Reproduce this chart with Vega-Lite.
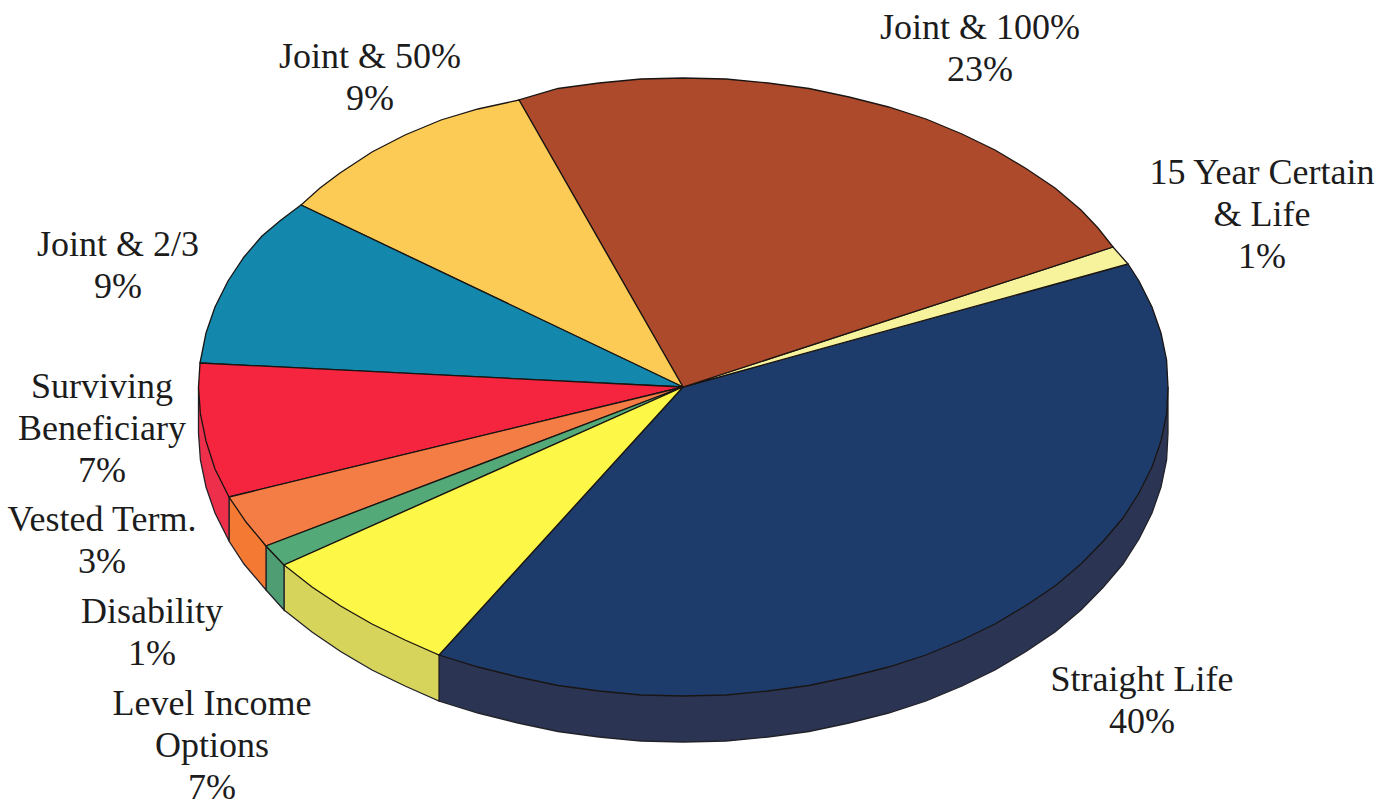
{
"$schema":"https://vega.github.io/schema/vega-lite/v6.json",
"width":1387,"height":804,"padding":0,"autosize":"none","background":"white",
"view":{"stroke":null},
"encoding":{"x":{"field":"x","type":"quantitative","scale":{"domain":[0,1387],"nice":false,"zero":false},"axis":null},"y":{"field":"y","type":"quantitative","scale":{"domain":[804,0],"nice":false,"zero":false},"axis":null}},
"layer":[
{"data":{"name":"walls"},"mark":{"type":"line","strokeWidth":1.3,"stroke":"#22222a","filled":true,"interpolate":"linear"},
"encoding":{"order":{"field":"i","type":"quantitative"},"detail":{"field":"s"},
"fill":{"field":"s","type":"nominal","legend":null,"scale":{"domain":["Straight Life wall","Level Income wall","Disability wall","Vested wall","Surviving wall"],"range":["#2b3553","#d6d45a","#4f9d72","#f47a33","#ee2f4c"]}}}},
{"data":{"name":"tops"},"mark":{"type":"line","strokeWidth":1.3,"stroke":"#1a1512","filled":true,"interpolate":"linear"},
"encoding":{"order":{"field":"i","type":"quantitative"},"detail":{"field":"s"},
"fill":{"field":"s","type":"nominal","legend":null,"scale":{"domain":["Straight Life","15 Year Certain & Life","Joint & 100%","Joint & 50%","Joint & 2/3","Surviving Beneficiary","Vested Term.","Disability","Level Income Options"],"range":["#1d3c6c","#f7f29c","#ae4a2c","#fbcb56","#1487ac","#f5243f","#f47c45","#53aa78","#fdf748"]}}}},
{"data":{"name":"labels"},"mark":{"type":"text","font":"Liberation Serif","fontSize":36,"lineBreak":"\n","lineHeight":42,"align":"center","baseline":"alphabetic","color":"#1c1c1c"},
"encoding":{"text":{"field":"label"}}}
],
"resolve":{"scale":{"fill":"independent"}},
"datasets":{
"labels":[
{"label":"Joint & 100%\n23%","share":23,"x":980,"y":39},
{"label":"Joint & 50%\n9%","share":9,"x":370,"y":68},
{"label":"15 Year Certain\n& Life\n1%","share":1,"x":1262,"y":184},
{"label":"Joint & 2/3\n9%","share":9,"x":118,"y":256},
{"label":"Surviving\nBeneficiary\n7%","share":7,"x":102,"y":398},
{"label":"Vested Term.\n3%","share":3,"x":102,"y":531},
{"label":"Disability\n1%","share":1,"x":152,"y":623},
{"label":"Level Income\nOptions\n7%","share":7,"x":212,"y":715},
{"label":"Straight Life\n40%","share":40,"x":1142,"y":691}
],
"walls":[
{"s":"Straight Life wall","i":0,"x":439,"y":655},{"s":"Straight Life wall","i":1,"x":439,"y":701},{"s":"Straight Life wall","i":2,"x":478,"y":713},{"s":"Straight Life wall","i":3,"x":518,"y":723},{"s":"Straight Life wall","i":4,"x":558,"y":731.5},{"s":"Straight Life wall","i":5,"x":599,"y":737},{"s":"Straight Life wall","i":6,"x":641,"y":741},{"s":"Straight Life wall","i":7,"x":683,"y":742},{"s":"Straight Life wall","i":8,"x":726,"y":741},{"s":"Straight Life wall","i":9,"x":768,"y":737},{"s":"Straight Life wall","i":10,"x":809,"y":731.5},{"s":"Straight Life wall","i":11,"x":849,"y":723},{"s":"Straight Life wall","i":12,"x":888.6,"y":713},{"s":"Straight Life wall","i":13,"x":926,"y":701},{"s":"Straight Life wall","i":14,"x":962,"y":686},{"s":"Straight Life wall","i":15,"x":995,"y":670},{"s":"Straight Life wall","i":16,"x":1026,"y":651.5},{"s":"Straight Life wall","i":17,"x":1055,"y":632},{"s":"Straight Life wall","i":18,"x":1081,"y":610},{"s":"Straight Life wall","i":19,"x":1103,"y":587.5},{"s":"Straight Life wall","i":20,"x":1123,"y":564},{"s":"Straight Life wall","i":21,"x":1139,"y":539},{"s":"Straight Life wall","i":22,"x":1152,"y":513},{"s":"Straight Life wall","i":23,"x":1161,"y":487},{"s":"Straight Life wall","i":24,"x":1166.6,"y":460},{"s":"Straight Life wall","i":25,"x":1168,"y":433},{"s":"Straight Life wall","i":26,"x":1168,"y":387},
{"s":"Level Income wall","i":0,"x":284,"y":565},{"s":"Level Income wall","i":1,"x":284,"y":610},{"s":"Level Income wall","i":2,"x":312,"y":632},{"s":"Level Income wall","i":3,"x":340.6,"y":651.5},{"s":"Level Income wall","i":4,"x":372,"y":670},{"s":"Level Income wall","i":5,"x":405,"y":686},{"s":"Level Income wall","i":6,"x":439,"y":701},{"s":"Level Income wall","i":7,"x":439,"y":655},{"s":"Level Income wall","i":8,"x":284,"y":565},
{"s":"Disability wall","i":0,"x":266,"y":546},{"s":"Disability wall","i":1,"x":266,"y":590},{"s":"Disability wall","i":2,"x":284,"y":610},{"s":"Disability wall","i":3,"x":284,"y":565},{"s":"Disability wall","i":4,"x":266,"y":546},
{"s":"Vested wall","i":0,"x":229,"y":497},{"s":"Vested wall","i":1,"x":229,"y":541},{"s":"Vested wall","i":2,"x":244,"y":564},{"s":"Vested wall","i":3,"x":266,"y":590},{"s":"Vested wall","i":4,"x":266,"y":546},{"s":"Vested wall","i":5,"x":229,"y":497},
{"s":"Surviving wall","i":0,"x":198.5,"y":387},{"s":"Surviving wall","i":1,"x":198.5,"y":433},{"s":"Surviving wall","i":2,"x":200.4,"y":460},{"s":"Surviving wall","i":3,"x":206,"y":487},{"s":"Surviving wall","i":4,"x":215,"y":513},{"s":"Surviving wall","i":5,"x":229,"y":541},{"s":"Surviving wall","i":6,"x":229,"y":497},{"s":"Surviving wall","i":7,"x":198.5,"y":387}
],
"tops":[
{"s":"Straight Life","i":0,"x":683,"y":387},{"s":"Straight Life","i":1,"x":1128,"y":264},{"s":"Straight Life","i":2,"x":1139,"y":281},{"s":"Straight Life","i":3,"x":1152,"y":307},{"s":"Straight Life","i":4,"x":1161,"y":333},{"s":"Straight Life","i":5,"x":1166.6,"y":360},{"s":"Straight Life","i":6,"x":1168,"y":387},{"s":"Straight Life","i":7,"x":1166.6,"y":414},{"s":"Straight Life","i":8,"x":1161,"y":441},{"s":"Straight Life","i":9,"x":1152,"y":467},{"s":"Straight Life","i":10,"x":1139,"y":493},{"s":"Straight Life","i":11,"x":1123,"y":518},{"s":"Straight Life","i":12,"x":1103,"y":541.5},{"s":"Straight Life","i":13,"x":1081,"y":564},{"s":"Straight Life","i":14,"x":1055,"y":586},{"s":"Straight Life","i":15,"x":1026,"y":605.5},{"s":"Straight Life","i":16,"x":995,"y":624},{"s":"Straight Life","i":17,"x":962,"y":640},{"s":"Straight Life","i":18,"x":926,"y":655},{"s":"Straight Life","i":19,"x":888.6,"y":667},{"s":"Straight Life","i":20,"x":849,"y":677},{"s":"Straight Life","i":21,"x":809,"y":685.5},{"s":"Straight Life","i":22,"x":768,"y":691},{"s":"Straight Life","i":23,"x":726,"y":695},{"s":"Straight Life","i":24,"x":683,"y":696},{"s":"Straight Life","i":25,"x":641,"y":695},{"s":"Straight Life","i":26,"x":599,"y":691},{"s":"Straight Life","i":27,"x":558,"y":685.5},{"s":"Straight Life","i":28,"x":518,"y":677},{"s":"Straight Life","i":29,"x":478,"y":667},{"s":"Straight Life","i":30,"x":439,"y":655},{"s":"Straight Life","i":31,"x":683,"y":387},
{"s":"15 Year Certain & Life","i":0,"x":683,"y":387},{"s":"15 Year Certain & Life","i":1,"x":1113,"y":247},{"s":"15 Year Certain & Life","i":2,"x":1128,"y":264},{"s":"15 Year Certain & Life","i":3,"x":683,"y":387},
{"s":"Joint & 100%","i":0,"x":683,"y":387},{"s":"Joint & 100%","i":1,"x":519,"y":100},{"s":"Joint & 100%","i":2,"x":558,"y":88.5},{"s":"Joint & 100%","i":3,"x":599,"y":83},{"s":"Joint & 100%","i":4,"x":641,"y":79},{"s":"Joint & 100%","i":5,"x":683,"y":78},{"s":"Joint & 100%","i":6,"x":726,"y":79},{"s":"Joint & 100%","i":7,"x":768,"y":83},{"s":"Joint & 100%","i":8,"x":809,"y":88.5},{"s":"Joint & 100%","i":9,"x":849,"y":97},{"s":"Joint & 100%","i":10,"x":888.6,"y":107},{"s":"Joint & 100%","i":11,"x":926,"y":119},{"s":"Joint & 100%","i":12,"x":962,"y":134},{"s":"Joint & 100%","i":13,"x":995,"y":150},{"s":"Joint & 100%","i":14,"x":1026,"y":168.5},{"s":"Joint & 100%","i":15,"x":1055,"y":188},{"s":"Joint & 100%","i":16,"x":1081,"y":210},{"s":"Joint & 100%","i":17,"x":1098,"y":228},{"s":"Joint & 100%","i":18,"x":1113,"y":247},{"s":"Joint & 100%","i":19,"x":683,"y":387},
{"s":"Joint & 50%","i":0,"x":683,"y":387},{"s":"Joint & 50%","i":1,"x":301,"y":205},{"s":"Joint & 50%","i":2,"x":320,"y":188},{"s":"Joint & 50%","i":3,"x":340,"y":173},{"s":"Joint & 50%","i":4,"x":372,"y":152},{"s":"Joint & 50%","i":5,"x":405,"y":135},{"s":"Joint & 50%","i":6,"x":441,"y":120},{"s":"Joint & 50%","i":7,"x":478,"y":109},{"s":"Joint & 50%","i":8,"x":519,"y":100},{"s":"Joint & 50%","i":9,"x":683,"y":387},
{"s":"Joint & 2/3","i":0,"x":683,"y":387},{"s":"Joint & 2/3","i":1,"x":200,"y":363},{"s":"Joint & 2/3","i":2,"x":206,"y":333},{"s":"Joint & 2/3","i":3,"x":215,"y":307},{"s":"Joint & 2/3","i":4,"x":228,"y":281},{"s":"Joint & 2/3","i":5,"x":244,"y":257},{"s":"Joint & 2/3","i":6,"x":262,"y":236},{"s":"Joint & 2/3","i":7,"x":281,"y":220},{"s":"Joint & 2/3","i":8,"x":301,"y":205},{"s":"Joint & 2/3","i":9,"x":683,"y":387},
{"s":"Surviving Beneficiary","i":0,"x":683,"y":387},{"s":"Surviving Beneficiary","i":1,"x":200,"y":363},{"s":"Surviving Beneficiary","i":2,"x":198.5,"y":387},{"s":"Surviving Beneficiary","i":3,"x":200.4,"y":414},{"s":"Surviving Beneficiary","i":4,"x":206,"y":441},{"s":"Surviving Beneficiary","i":5,"x":215,"y":469},{"s":"Surviving Beneficiary","i":6,"x":229,"y":497},{"s":"Surviving Beneficiary","i":7,"x":683,"y":387},
{"s":"Vested Term.","i":0,"x":683,"y":387},{"s":"Vested Term.","i":1,"x":229,"y":497},{"s":"Vested Term.","i":2,"x":246,"y":522},{"s":"Vested Term.","i":3,"x":266,"y":546},{"s":"Vested Term.","i":4,"x":683,"y":387},
{"s":"Disability","i":0,"x":683,"y":387},{"s":"Disability","i":1,"x":266,"y":546},{"s":"Disability","i":2,"x":284,"y":565},{"s":"Disability","i":3,"x":683,"y":387},
{"s":"Level Income Options","i":0,"x":683,"y":387},{"s":"Level Income Options","i":1,"x":284,"y":565},{"s":"Level Income Options","i":2,"x":312,"y":587},{"s":"Level Income Options","i":3,"x":340.6,"y":606},{"s":"Level Income Options","i":4,"x":372,"y":624},{"s":"Level Income Options","i":5,"x":405,"y":640},{"s":"Level Income Options","i":6,"x":439,"y":655},{"s":"Level Income Options","i":7,"x":683,"y":387}
]
}
}
